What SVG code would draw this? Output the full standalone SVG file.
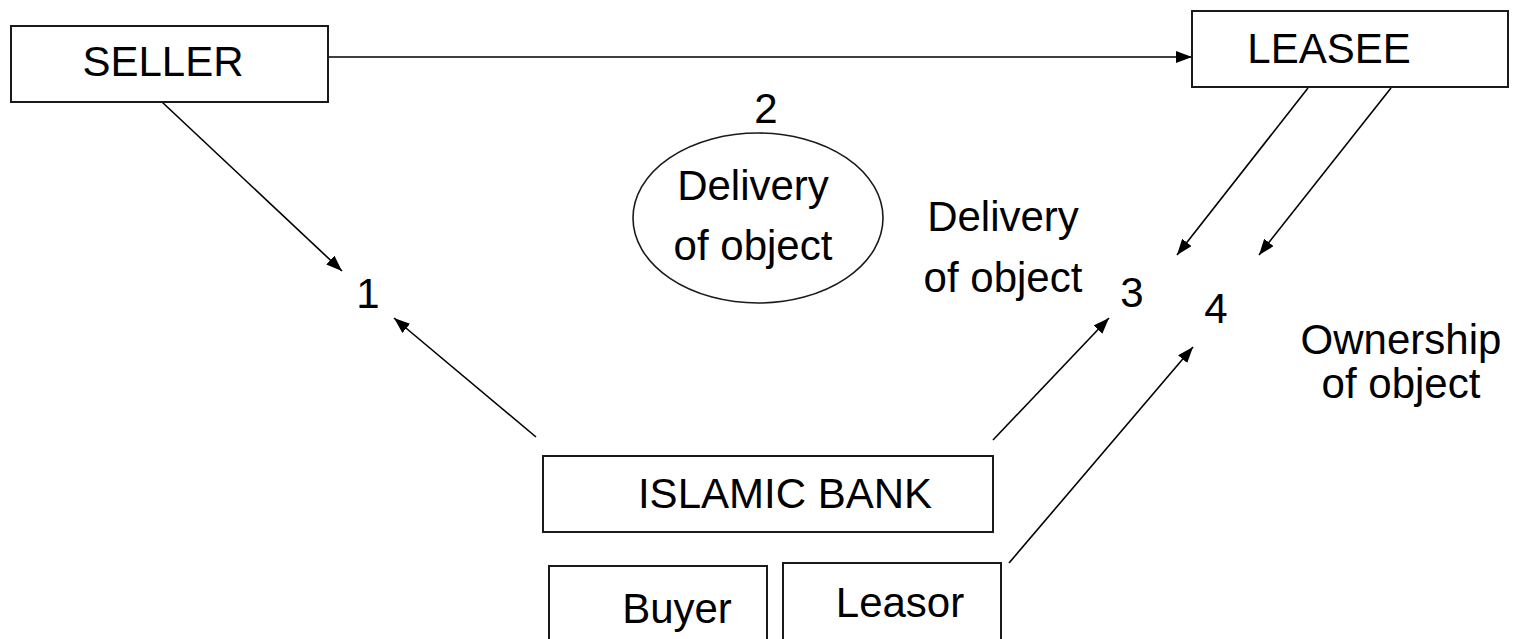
<svg xmlns="http://www.w3.org/2000/svg" width="1514" height="639" viewBox="0 0 1514 639">
  <style>
    .box { fill: #ffffff; stroke: #1a1a1a; stroke-width: 2; }
    .lbl { font-family: "Liberation Sans", Arial, sans-serif; font-size: 42px; fill: #000000; text-anchor: middle; }
    .conn { stroke: #000000; stroke-width: 1.6; fill: none; marker-end: url(#arrow); }
  </style>
  <defs>
    <marker id="arrow" viewBox="0 0 16 12" refX="16" refY="6" markerWidth="16" markerHeight="12" markerUnits="userSpaceOnUse" orient="auto">
      <path d="M0,0 L16,6 L0,12 z" fill="#000000"/>
    </marker>
  </defs>

  <rect width="1514" height="639" fill="#ffffff"/>

  <!-- flows between parties -->
  <g id="connectors">
    <line class="conn" x1="328" y1="57" x2="1192" y2="57"/>
    <line class="conn" x1="162" y1="102" x2="342" y2="271"/>
    <line class="conn" x1="536" y1="437" x2="394" y2="318"/>
    <line class="conn" x1="1308" y1="88" x2="1177" y2="255"/>
    <line class="conn" x1="1391" y1="88" x2="1259" y2="255"/>
    <line class="conn" x1="993" y1="440" x2="1109" y2="318"/>
    <line class="conn" x1="1009" y1="563" x2="1193" y2="347"/>
  </g>

  <g id="seller">
    <rect class="box" x="11" y="26" width="317" height="76"/>
    <text class="lbl" x="163" y="76">SELLER</text>
  </g>

  <g id="leasee">
    <rect class="box" x="1192" y="11" width="316" height="76"/>
    <text class="lbl" x="1329" y="63">LEASEE</text>
  </g>

  <g id="islamic-bank">
    <rect class="box" x="543" y="456" width="450" height="76"/>
    <text class="lbl" x="785" y="508">ISLAMIC BANK</text>
  </g>

  <g id="buyer">
    <rect class="box" x="549" y="566" width="218" height="80"/>
    <text class="lbl" x="677" y="623">Buyer</text>
  </g>

  <g id="leasor">
    <rect class="box" x="783" y="563" width="218" height="80"/>
    <text class="lbl" x="900" y="617">Leasor</text>
  </g>

  <g id="step-2-delivery">
    <text class="lbl" x="766" y="123">2</text>
    <ellipse cx="758" cy="218" rx="125" ry="85" fill="#ffffff" stroke="#1a1a1a" stroke-width="1.6"/>
    <text class="lbl" x="753" y="200">Delivery</text>
    <text class="lbl" x="753" y="260">of object</text>
  </g>

  <g id="step-1">
    <text class="lbl" x="368" y="308">1</text>
  </g>

  <g id="step-3">
    <text class="lbl" x="1132" y="307">3</text>
    <text class="lbl" x="1003" y="231">Delivery</text>
    <text class="lbl" x="1003" y="292">of object</text>
  </g>

  <g id="step-4">
    <text class="lbl" x="1216" y="323">4</text>
    <text class="lbl" x="1401" y="354">Ownership</text>
    <text class="lbl" x="1401" y="398">of object</text>
  </g>
</svg>
